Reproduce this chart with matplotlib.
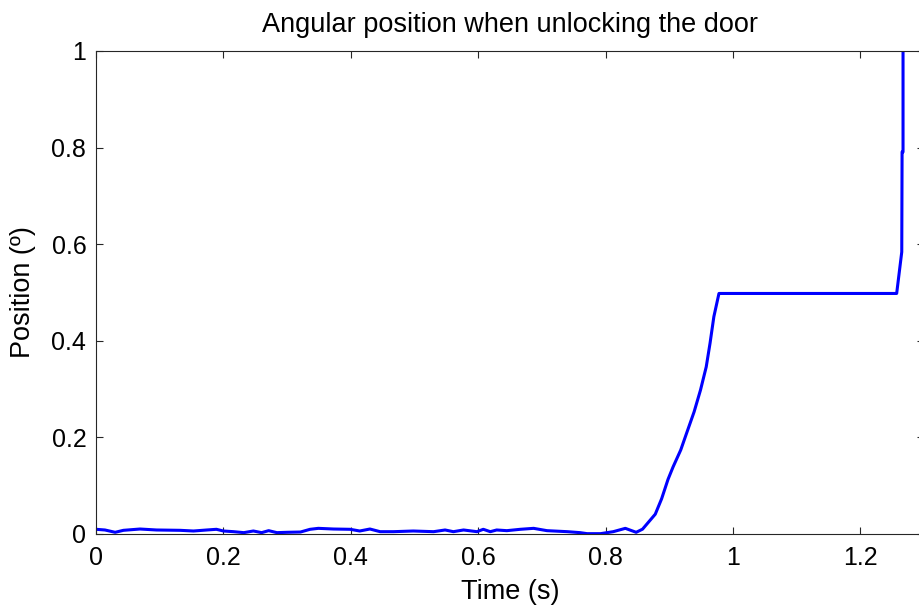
import matplotlib
matplotlib.use("Agg")
import matplotlib.pyplot as plt

plt.rcParams['font.family'] = ['Liberation Sans', 'DejaVu Sans']

# angular position samples (time in s, position in degrees)
time_s = [0.000, 0.014, 0.030, 0.043, 0.069, 0.095, 0.132, 0.153, 0.174, 0.189,
          0.200, 0.216, 0.232, 0.247, 0.260, 0.271, 0.284, 0.300, 0.321, 0.336,
          0.349, 0.373, 0.399, 0.414, 0.430, 0.446, 0.467, 0.498, 0.530, 0.548,
          0.561, 0.577, 0.598, 0.608, 0.619, 0.629, 0.645, 0.666, 0.687, 0.708,
          0.740, 0.760, 0.771, 0.792, 0.812, 0.831, 0.848, 0.858, 0.878, 0.888,
          0.898, 0.906, 0.918, 0.927, 0.939, 0.949, 0.958, 0.964, 0.970, 0.978,
          1.257, 1.265, 1.2655, 1.267, 1.267]
position = [0.0097, 0.0083, 0.0035, 0.0076, 0.0103, 0.0083, 0.0076, 0.0062, 0.0083, 0.0097,
            0.0062, 0.0048, 0.0028, 0.0062, 0.0028, 0.0069, 0.0028, 0.0035, 0.0041, 0.0097,
            0.0117, 0.0103, 0.0097, 0.0062, 0.0103, 0.0048, 0.0048, 0.0062, 0.0048, 0.0083,
            0.0048, 0.0083, 0.0048, 0.0097, 0.0048, 0.0083, 0.0069, 0.0097, 0.0117, 0.0069,
            0.0048, 0.0028, 0.0007, 0.0007, 0.0048, 0.0117, 0.0035, 0.0100, 0.041, 0.073,
            0.113, 0.139, 0.174, 0.208, 0.253, 0.298, 0.346, 0.395, 0.450, 0.498,
            0.498, 0.584, 0.791, 0.791, 1.1]

fig = plt.figure(figsize=(9.19, 6.10), dpi=100)
ax = fig.add_axes([0.1045, 0.1246, 0.901, 0.7918])

ax.plot(time_s, position, color='#0000ff', linewidth=2.2)

ax.set_xlim(0, 1.3)
ax.set_ylim(0, 1)
ax.set_xticks([0, 0.2, 0.4, 0.6, 0.8, 1.0, 1.2])
ax.set_xticklabels(['0', '0.2', '0.4', '0.6', '0.8', '1', '1.2'])
ax.set_yticks([0, 0.2, 0.4, 0.6, 0.8, 1.0])
ax.set_yticklabels(['0', '0.2', '0.4', '0.6', '0.8', '1'])
ax.tick_params(direction='in', length=5.2, width=0.8, top=True, right=True,
               labelsize=18, colors='#262626', labelcolor='black')
ax.tick_params(axis='x', pad=9)
ax.tick_params(axis='y', pad=7)
for sp in ax.spines.values():
    sp.set_color('#262626')
    sp.set_linewidth(0.8)

ax.set_title('Angular position when unlocking the door', fontsize=19.5, pad=14)
ax.set_xlabel('Time (s)', fontsize=19.5, labelpad=6)
ax.set_ylabel('Position (º)', fontsize=19.5, labelpad=11)

fig.savefig('out.png', dpi=100)
